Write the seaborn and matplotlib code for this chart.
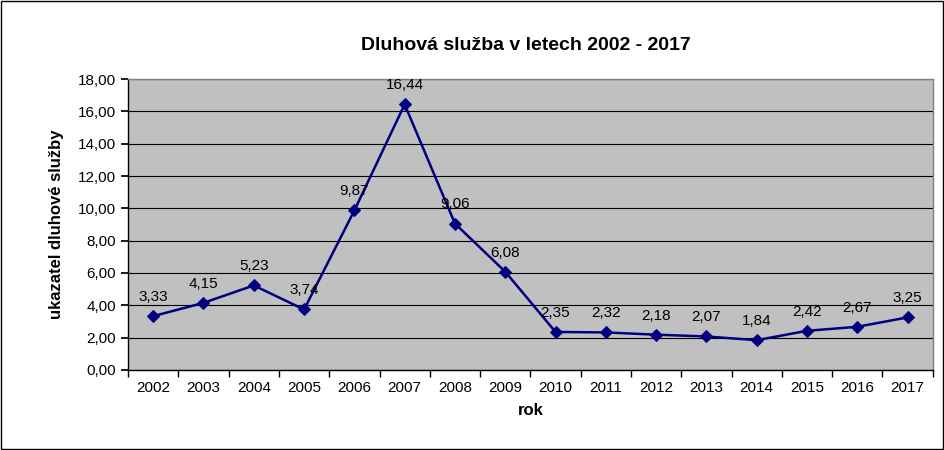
import matplotlib
matplotlib.use("Agg")
import matplotlib.pyplot as plt
import seaborn as sns
import numpy as np

years = ["2002", "2003", "2004", "2005", "2006", "2007", "2008", "2009",
         "2010", "2011", "2012", "2013", "2014", "2015", "2016", "2017"]
values = [3.33, 4.15, 5.23, 3.74, 9.87, 16.44, 9.06, 6.08,
          2.35, 2.32, 2.18, 2.07, 1.84, 2.42, 2.67, 3.25]

sns.set_theme(style="white")
plt.rcParams['font.family'] = ['Liberation Sans', 'DejaVu Sans']
plt.rcParams['text.color'] = 'black'
plt.rcParams['axes.labelcolor'] = 'black'
plt.rcParams['xtick.color'] = 'black'
plt.rcParams['ytick.color'] = 'black'

fig = plt.figure(figsize=(9.45, 4.5), dpi=100)
ax = fig.add_axes([0.1355, 0.178, 0.8515, 0.646])
ax.set_facecolor("#C0C0C0")

x = np.arange(len(years))
sns.lineplot(x=x, y=values, ax=ax, color="#000080", linewidth=1.8,
             marker="D", markersize=6, markeredgecolor="#000080")

for xi, v in zip(x, values):
    ax.text(xi, v + 0.75, f"{v:.2f}".replace(".", ","), ha="center", va="bottom",
            fontsize=11, color="black")

ax.set_xlim(-0.5, len(years) - 0.5)
ax.set_ylim(0, 18)
ax.set_yticks(np.arange(0, 19, 2))
ax.set_yticklabels([f"{t:.2f}".replace(".", ",") for t in np.arange(0, 19, 2)], fontsize=11)
ax.set_xticks(x)
ax.set_xticklabels(years, fontsize=11)
ax.set_xticks(np.arange(-0.5, len(years)), minor=True)
ax.tick_params(axis="x", which="major", length=0, pad=8)
ax.tick_params(axis="x", which="minor", length=5, direction="out", color="black", bottom=True)
ax.tick_params(axis="y", length=5, direction="out", color="black", left=True)
ax.grid(axis="y", color="black", linewidth=0.8)
ax.set_axisbelow(True)
for s in ax.spines.values():
    s.set_color("#808080")
    s.set_linewidth(1)
ax.spines["left"].set_color("black")
ax.spines["bottom"].set_color("black")

ax.set_xlabel("rok", fontsize=12, fontweight="bold", labelpad=6)
ax.set_ylabel("ukazatel dluhové služby", fontsize=12, fontweight="bold", labelpad=10)
fig.text(0.556, 0.9, "Dluhová služba v letech 2002 - 2017", ha="center", va="center",
         fontsize=14, fontweight="bold", color="black")

fig.patches.append(plt.Rectangle((0.001, 0.002), 0.997, 0.996, transform=fig.transFigure,
                                 fill=False, edgecolor="black", linewidth=1))
fig.savefig("out.png", dpi=100)
